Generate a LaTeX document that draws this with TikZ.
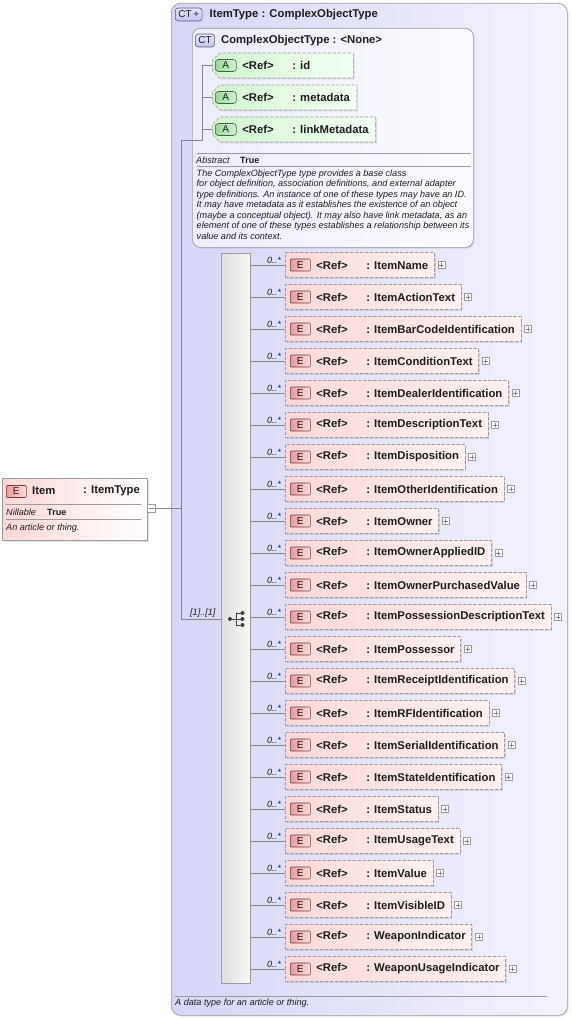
\documentclass[tikz,border=0pt]{standalone}
\usepackage{fontspec}
\setmainfont{Liberation Sans}
\usetikzlibrary{positioning,shapes.misc,shadows}

\definecolor{ink}{HTML}{1E1E1E}
\definecolor{rim}{HTML}{9C9C9C}
\definecolor{wire}{HTML}{858585}
\definecolor{lavL}{HTML}{D6D6F6}
\definecolor{lavR}{HTML}{F3F3FD}
\definecolor{paleL}{HTML}{EDEDFB}
\definecolor{paleR}{HTML}{FBFBFF}
\definecolor{ctfill}{HTML}{C4C4F0}
\definecolor{ctrim}{HTML}{5A5A7A}
\definecolor{pinkL}{HTML}{FBD8D8}
\definecolor{pinkR}{HTML}{FFF1F1}
\definecolor{ebadgeL}{HTML}{EE9A9A}
\definecolor{ebadgeR}{HTML}{FCDCDC}
\definecolor{erim}{HTML}{7A3A3A}
\definecolor{greenL}{HTML}{D2F3D2}
\definecolor{greenR}{HTML}{F3FFF3}
\definecolor{abadgeL}{HTML}{9AD69A}
\definecolor{abadgeR}{HTML}{D6F4D6}
\definecolor{arim}{HTML}{3C6E3C}

\begin{document}
\begin{tikzpicture}[x=1pt,y=1pt,line cap=round,line join=round,
  every node/.style={inner sep=1pt,text=ink},
  big/.style={font=\fontsize{11.3}{13}\selectfont\bfseries},
  note/.style={font=\fontsize{9.1}{10.5}\selectfont\itshape},
  notebold/.style={font=\fontsize{9.1}{10.5}\selectfont\bfseries},
  conn/.style={draw=wire,line width=0.6pt},
  sepline/.style={draw=rim,line width=0.6pt},
  softshadow/.style={drop shadow={shadow xshift=1.3pt,shadow yshift=-1.3pt,opacity=0.22}},
  ctbox/.style={draw=rim,line width=0.7pt,rounded corners=9pt,left color=lavL,right color=lavR,softshadow},
  ctinner/.style={draw=rim,line width=0.7pt,rounded corners=8pt,left color=paleL,right color=paleR,softshadow},
  ctbadge/.style={draw=ctrim,line width=0.6pt,rounded corners=3pt,top color=ctfill!45!white,bottom color=ctfill,
    minimum height=13pt,inner xsep=3pt,inner ysep=0pt,font=\fontsize{10}{10}\selectfont},
  ebadge/.style={draw=erim,line width=0.6pt,rounded corners=1pt,left color=ebadgeL,right color=ebadgeR,
    minimum width=20pt,minimum height=12pt,inner sep=0pt,font=\fontsize{10}{10}\selectfont},
  abadge/.style={draw=arim,line width=0.6pt,rounded corners=3pt,left color=abadgeL,right color=abadgeR,
    minimum width=21pt,minimum height=12pt,inner sep=0pt,font=\fontsize{10}{10}\selectfont},
  elem/.style={draw=rim,dash pattern=on 3pt off 2pt,line width=0.6pt,left color=pinkL,right color=pinkR,
    minimum height=25pt,inner xsep=6pt,anchor=west,big,softshadow},
  attr/.style={chamfered rectangle,chamfered rectangle corners={north west,south west},chamfered rectangle xsep=4pt,
    draw=rim,dash pattern=on 3pt off 2pt,line width=0.6pt,left color=greenL,right color=greenR,
    minimum height=25pt,inner xsep=3pt,anchor=west,big,softshadow},
  itembox/.style={draw=rim,line width=0.6pt,left color=pinkL,right color=white,minimum width=145pt,
    minimum height=62pt,anchor=north west,softshadow},
  seqbox/.style={draw=rim,line width=0.6pt,left color=black!13,right color=black!3,minimum width=29pt,
    minimum height=730pt,inner sep=0pt},
  plusbox/.style={draw=rim,fill=white,line width=0.5pt,minimum size=7pt,inner sep=0pt,
    path picture={\draw[wire,line width=0.5pt] ([xshift=-2pt]path picture bounding box.center) -- ([xshift=2pt]path picture bounding box.center)
      ([yshift=-2pt]path picture bounding box.center) -- ([yshift=2pt]path picture bounding box.center);}},
  minusbox/.style={draw=rim,fill=white,line width=0.5pt,minimum size=8pt,inner sep=0pt,
    path picture={\draw[wire,line width=0.5pt] ([xshift=-2.5pt]path picture bounding box.center) -- ([xshift=2.5pt]path picture bounding box.center);}}]
  \def\rowtop{265}
  \def\rowgap{32}
  \useasboundingbox (0,0) rectangle (571,-1019);

  % complex type ItemType
  \node[ctbox,anchor=north west,minimum width=396pt,minimum height=1012pt] (itemtypebox) at (171,-3) {};
  \node[ctbadge,anchor=west] (ctplus) at (175,-14.5) {CT\,{\bfseries\color{ctrim}+}};
  \node[big,right=6pt of ctplus] (itemtypetitle) {ItemType : ComplexObjectType};

  % base type ComplexObjectType
  \node[ctinner,anchor=north west,minimum width=281pt,minimum height=219pt] (cobj) at (192,-28) {};
  \node[ctbadge,anchor=west] (ct) at (195,-40.5) {CT};
  \node[big,right=5pt of ct] (cobjtitle) {ComplexObjectType : <None>};

  % attributes
  \node[attr] (a1) at (212,-65.5) {\hspace*{23pt}\makebox[50pt][l]{<Ref>}\makebox[54pt][l]{: id}};
  \node[attr] (a2) at (212,-97.5) {\hspace*{23pt}\makebox[50pt][l]{<Ref>}: metadata};
  \node[attr] (a3) at (212,-129.5) {\hspace*{23pt}\makebox[50pt][l]{<Ref>}: linkMetadata};
  \foreach \i in {1,2,3}
    \node[abadge,anchor=west] at ([xshift=3pt]a\i.west) {A};

  \draw[sepline] (197,-153.5) -- (470,-153.5);
  \node[note,anchor=west] (abs) at (195,-160) {Abstract};
  \node[notebold,anchor=west] at (239,-160) {True};
  \draw[sepline] (197,-166.5) -- (470,-166.5);
  \node[note,anchor=north west,align=left] (cobjdoc) at (195.5,-168.5) {The ComplexObjectType type provides a base class\\
    for object definition, association definitions, and external adapter\\
    type definitions. An instance of one of these types may have an ID.\\
    It may have metadata as it establishes the existence of an object\\
    (maybe a conceptual object). It may also have link metadata, as an\\
    element of one of these types establishes a relationship between its\\
    value and its context.};

  % element Item
  \node[itembox] (item) at (2,-478) {};
  \node[ebadge,anchor=west] (itemE) at (6,-491.5) {E};
  \node[big,anchor=west] (itemname) at (31,-491) {Item};
  \node[big,anchor=west] (itemtype) at (82,-491) {: ItemType};
  \draw[sepline] (6,-504) -- (141,-504);
  \node[note,anchor=west] (nil) at (5,-512) {Nillable};
  \node[notebold,anchor=west] at (46,-512) {True};
  \draw[sepline] (6,-519.5) -- (141,-519.5);
  \node[note,anchor=west] (itemdoc) at (5,-528) {An article or thing.};
  \node[minusbox] (collapse) at (151.5,-508) {};

  % sequence
  \node[seqbox] (seq) at (235.5,-618) {};
  \begin{scope}[shift={(236.5,-619)}]
    \draw[ink!85,line width=0.9pt] (-6.5,0) -- (0,0) (0,6) -- (0,-6) (0,6) -- (6,6) (0,0) -- (6,0) (0,-6) -- (6,-6);
    \fill[ink!85] (-6.5,0) circle (2) (6,6) circle (2) (6,0) circle (2) (6,-6) circle (2);
  \end{scope}

  % connectors
  \coordinate (jtop) at (181,-140);
  \coordinate (jattr) at (202,-140);
  \coordinate (jitem) at (181,-508);
  \coordinate (jseq) at (181,-619);
  \draw[conn] (collapse.east) -- (jitem);
  \draw[conn] (jtop) -- (jseq) -- (seq.west |- jseq);
  \draw[conn] (jtop) -- (jattr) -- (jattr |- a1.west) -- (a1.west);
  \draw[conn] (jattr |- a2.west) -- (a2.west);
  \draw[conn] (jattr |- a3.west) -- (a3.west);
  \node[note,anchor=south east] at ([xshift=-4pt]seq.west |- jseq) {[1]..[1]};

  % child elements
  \foreach \nm [count=\i] in {ItemName,ItemActionText,ItemBarCodeIdentification,ItemConditionText,
      ItemDealerIdentification,ItemDescriptionText,ItemDisposition,ItemOtherIdentification,ItemOwner,
      ItemOwnerAppliedID,ItemOwnerPurchasedValue,ItemPossessionDescriptionText,ItemPossessor,
      ItemReceiptIdentification,ItemRFIdentification,ItemSerialIdentification,ItemStateIdentification,
      ItemStatus,ItemUsageText,ItemValue,ItemVisibleID,WeaponIndicator,WeaponUsageIndicator}{
    \node[elem] (e\i) at (285,{-\rowtop-\rowgap*(\i-1)}) {\hspace*{25pt}\makebox[50pt][l]{<Ref>}: \nm};
    \node[ebadge,anchor=west] at ([xshift=5pt]e\i.west) {E};
    \node[plusbox,right=3pt of e\i] (p\i) {};
    \draw[conn] (seq.east |- e\i.west) -- (e\i.west);
    \node[note,anchor=south east] at ([xshift=-3pt]e\i.west) {0..*};
  }

  % type documentation
  \draw[sepline] (175,-996) -- (547,-996);
  \node[note,anchor=west] (typedoc) at (174,-1003.5) {A data type for an article or thing.};
\end{tikzpicture}
\end{document}
